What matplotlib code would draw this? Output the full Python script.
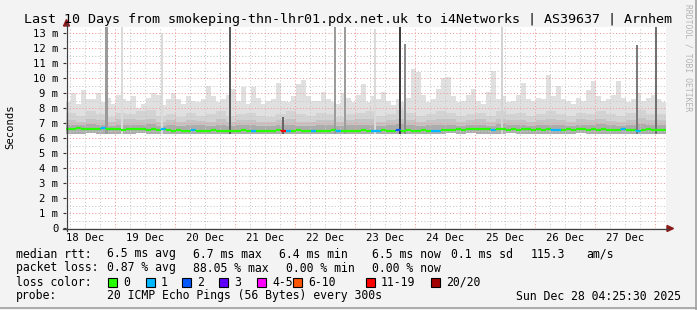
import numpy as np
import matplotlib
matplotlib.use("Agg")
import matplotlib.pyplot as plt
from matplotlib.patches import Rectangle, Polygon
from matplotlib.lines import Line2D

# --- data (hours since 18 Dec 00:00, values in ms) ---
t_start = 4.425          # 18 Dec 04:25:30
t_end = 244.425          # 28 Dec 04:25:30

# 2-hour samples: upper edge of the light smoke, median rtt, lost pings (of 20)
smoke_max = [8.4, 9.0, 8.3, 9.2, 8.6, 8.6, 9.0, 8.4, 8.7, 8.3,
             8.9, 8.6, 8.5, 8.8, 8.0, 8.3, 8.7, 9.0, 8.9, 8.2,
             8.6, 9.0, 8.6, 8.3, 8.8, 8.5, 8.4, 8.6, 9.5, 8.8,
             8.4, 8.6, 8.9, 9.3, 8.5, 9.4, 8.3, 9.4, 8.7, 8.3,
             8.5, 8.6, 9.7, 8.5, 8.4, 8.8, 9.6, 9.9, 8.8, 8.5,
             8.5, 9.1, 8.6, 8.4, 8.3, 9.0, 8.7, 8.4, 8.9, 9.6,
             8.4, 8.8, 8.6, 9.1, 8.5, 8.2, 8.6, 8.4, 8.7, 10.6,
             10.4, 8.9, 8.4, 8.6, 9.3, 10.0, 10.1, 8.8, 8.4, 8.5,
             8.9, 9.3, 8.5, 8.3, 9.1, 10.5, 8.6, 8.8, 8.4, 8.5,
             8.9, 9.7, 8.6, 8.5, 8.7, 8.6, 10.2, 8.8, 9.5, 8.6,
             8.5, 8.3, 8.7, 8.5, 9.2, 9.8, 8.8, 8.5, 8.6, 8.9,
             9.8, 8.7, 8.4, 8.6, 9.0, 8.5, 8.7, 8.9, 8.6, 8.4]

median_rtt = [6.62, 6.60, 6.65, 6.60, 6.58, 6.62, 6.60, 6.64, 6.60, 6.58,
              6.62, 6.56, 6.60, 6.62, 6.58, 6.60, 6.56, 6.60, 6.55, 6.58,
              6.52, 6.50, 6.54, 6.50, 6.48, 6.52, 6.50, 6.46, 6.50, 6.52,
              6.48, 6.50, 6.46, 6.50, 6.48, 6.52, 6.48, 6.50, 6.46, 6.50,
              6.48, 6.50, 6.52, 6.46, 6.50, 6.48, 6.52, 6.50, 6.48, 6.45,
              6.50, 6.46, 6.50, 6.52, 6.48, 6.50, 6.46, 6.50, 6.48, 6.52,
              6.50, 6.48, 6.46, 6.52, 6.50, 6.48, 6.55, 6.50, 6.52, 6.48,
              6.50, 6.54, 6.50, 6.48, 6.50, 6.52, 6.56, 6.54, 6.58, 6.56,
              6.60, 6.58, 6.62, 6.58, 6.60, 6.56, 6.60, 6.58, 6.55, 6.58,
              6.56, 6.60, 6.58, 6.55, 6.58, 6.56, 6.60, 6.55, 6.52, 6.56,
              6.58, 6.55, 6.58, 6.60, 6.56, 6.58, 6.55, 6.60, 6.56, 6.52,
              6.56, 6.58, 6.55, 6.52, 6.50, 6.55, 6.58, 6.56, 6.55, 6.56]

lost_pings = [0, 0, 0, 0, 0, 0, 0, 1, 0, 0,
              0, 0, 0, 0, 0, 0, 0, 0, 0, 1,
              0, 0, 0, 0, 0, 1, 0, 0, 0, 0,
              0, 0, 0, 0, 0, 0, 0, 1, 0, 0,
              0, 0, 0, 15, 1, 0, 0, 0, 0, 1,
              0, 0, 0, 0, 1, 0, 0, 0, 0, 0,
              0, 1, 1, 0, 0, 0, 2, 0, 0, 0,
              0, 0, 0, 1, 1, 0, 0, 0, 0, 0,
              0, 0, 0, 0, 0, 1, 0, 0, 0, 0,
              0, 0, 0, 0, 0, 0, 0, 1, 1, 0,
              0, 0, 0, 0, 0, 0, 0, 0, 0, 0,
              0, 1, 0, 0, 1, 0, 0, 0, 0, 0]

# 4-hour samples: inner smoke bands
smoke_low = [6.30, 6.28, 6.32, 6.30, 6.28, 6.30, 6.30, 6.32, 6.30, 6.28,
             6.26, 6.25, 6.28, 6.26, 6.25, 6.28, 6.26, 6.25, 6.28, 6.26,
             6.25, 6.26, 6.28, 6.25, 6.26, 6.25, 6.28, 6.26, 6.25, 6.26,
             6.26, 6.28, 6.25, 6.26, 6.28, 6.26, 6.25, 6.30, 6.32, 6.30,
             6.32, 6.30, 6.28, 6.30, 6.32, 6.30, 6.28, 6.30, 6.30, 6.28,
             6.30, 6.32, 6.30, 6.28, 6.30, 6.28, 6.30, 6.28, 6.30, 6.30]
smoke_band2 = [7.7, 7.5, 7.8, 7.6, 7.4, 7.7, 7.6, 7.8, 7.9, 7.5,
               7.6, 7.4, 7.7, 7.5, 7.6, 7.8, 7.5, 7.6, 7.7, 7.5,
               7.4, 7.6, 7.8, 7.6, 7.5, 7.7, 7.6, 7.4, 7.6, 7.7,
               7.8, 7.5, 7.6, 7.9, 7.7, 7.5, 7.6, 7.8, 7.7, 7.5,
               7.6, 7.7, 7.5, 7.8, 7.6, 7.7, 7.5, 7.6, 7.8, 7.6,
               7.5, 7.7, 7.6, 7.8, 7.6, 7.5, 7.7, 7.9, 7.6, 7.6]
smoke_band3 = [7.2, 7.1, 7.3, 7.2, 7.1, 7.25, 7.3, 7.2, 7.3, 7.1,
               7.2, 7.1, 7.2, 7.15, 7.1, 7.3, 7.1, 7.2, 7.2, 7.1,
               7.05, 7.2, 7.3, 7.1, 7.1, 7.2, 7.2, 7.05, 7.2, 7.25,
               7.3, 7.1, 7.2, 7.3, 7.2, 7.1, 7.2, 7.3, 7.25, 7.1,
               7.2, 7.25, 7.1, 7.3, 7.2, 7.2, 7.1, 7.2, 7.3, 7.2,
               7.1, 7.25, 7.2, 7.3, 7.15, 7.1, 7.2, 7.35, 7.2, 7.2]
smoke_band4 = [6.9, 6.85, 6.95, 6.9, 6.8, 6.9, 6.9, 6.85, 6.95, 6.8,
               6.85, 6.8, 6.9, 6.85, 6.8, 6.9, 6.8, 6.85, 6.9, 6.8,
               6.8, 6.85, 6.9, 6.8, 6.8, 6.85, 6.9, 6.8, 6.85, 6.9,
               6.9, 6.8, 6.85, 6.95, 6.85, 6.8, 6.85, 6.9, 6.9, 6.8,
               6.85, 6.9, 6.8, 6.95, 6.85, 6.85, 6.8, 6.85, 6.9, 6.85,
               6.8, 6.9, 6.85, 6.95, 6.85, 6.8, 6.85, 6.95, 6.85, 6.85]

# single high samples (time in hours, top in ms, grey shade)
spike_time = [20.6, 26.8, 42.8, 70.0, 91.2, 112.0, 116.0, 128.0, 138.0, 140.0, 178.8, 232.8, 240.4]
spike_top = [14.0, 14.0, 13.0, 14.0, 7.4, 14.0, 14.0, 13.3, 14.0, 12.3, 14.0, 12.2, 14.0]
spike_shade = ["#9a9a9a", "#dadada", "#dadada", "#5a5a5a", "#666666", "#9c9c9c", "#9c9c9c",
               "#dadada", "#3c3c3c", "#8a8a8a", "#d2d2d2", "#7a7a7a", "#707070"]

day_labels = ["18 Dec", "19 Dec", "20 Dec", "21 Dec", "22 Dec",
              "23 Dec", "24 Dec", "25 Dec", "26 Dec", "27 Dec"]
loss_labels = ["0", "1", "2", "3", "4-5", "6-10", "11-19", "20/20"]
loss_colors = ["#26ff00", "#00b8ff", "#0059ff", "#5e00ff", "#ff00ff", "#ff5500", "#ff0000", "#a10000"]
loss_limits = [0, 1, 2, 3, 5, 10, 19, 20]

W, H = 697, 310
MONO = "DejaVu Sans Mono"
plt.rcParams["lines.scale_dashes"] = False


def fx(px):
    return px / W


def fy(py):
    return 1 - py / H


fig = plt.figure(figsize=(W / 100, H / 100), dpi=100, facecolor="#f3f3f3")
ax = fig.add_axes([fx(66), fy(228), 600 / W, 201 / H])
ax.set_facecolor("white")
ax.set_xlim(t_start, t_end)
ax.set_ylim(0, 13.4)
for s in ax.spines.values():
    s.set_visible(False)

# smoke
t2 = t_start + 2 * np.arange(len(smoke_max))
t4 = t_start + 4 * np.arange(len(smoke_low))
t2e = np.append(t2, t2[-1] + 2)
t4e = np.append(t4, t4[-1] + 4)
low2 = np.repeat(smoke_low, 2)
ax.fill_between(t2e, np.append(low2, low2[-1]), np.append(smoke_max, smoke_max[-1]),
                step="post", color="#e0e0e0", lw=0, zorder=1)
for band, col in [(smoke_band2, "#d3d3d3"), (smoke_band3, "#c4c4c4"), (smoke_band4, "#acacac")]:
    ax.fill_between(t4e, np.append(smoke_low, smoke_low[-1]), np.append(band, band[-1]),
                    step="post", color=col, lw=0, zorder=1.5)
ax.bar(spike_time, np.array(spike_top) - 6.3, bottom=6.3, width=1.0,
       color=spike_shade, lw=0, zorder=3.5)

# grid
minor_y = np.arange(0.5, 13.4, 1.0)
major_y = np.arange(1, 14)
minor_x = [h for h in range(6, 245, 6) if h % 24]
major_x = list(range(24, 245, 24))
kw = dict(lw=0.7, linestyles=[(0, (0.8, 1.5))], zorder=3)
ax.hlines(minor_y, t_start, t_end, colors="#c8c8c8", **kw)
ax.vlines(minor_x, 0, 13.4, colors="#c8c8c8", **kw)
ax.hlines(major_y, t_start, t_end, colors="#f29a9a", **kw)
ax.vlines(major_x, 0, 13.4, colors="#f29a9a", **kw)

# median line coloured by loss
idx = np.searchsorted(loss_limits, lost_pings)
seg_cols = [loss_colors[i] for i in idx]
ax.hlines(median_rtt, t2, t2 + 2, colors=seg_cols, lw=1.6, zorder=4)
ax.vlines(t2[1:], median_rtt[:-1], median_rtt[1:], colors=seg_cols[1:], lw=1.3, zorder=4)

# ticks
ax.set_yticks(range(0, 14))
ax.set_yticklabels(["0"] + [f"{v} m" for v in range(1, 14)], fontfamily=MONO, fontsize=7.6)
ax.set_xticks(np.arange(12, 240, 24))
ax.set_xticklabels(day_labels, fontfamily=MONO, fontsize=7.6)
ax.tick_params(axis="y", length=2.5, width=0.8, color="#333333", pad=3)
ax.tick_params(axis="x", length=0, pad=3.5)

# axes with arrows
fig.add_artist(Line2D([fx(66.5), fx(66.5)], [fy(231), fy(24)], color="#404040", lw=0.9))
fig.add_artist(Line2D([fx(63), fx(668)], [fy(228.5), fy(228.5)], color="#404040", lw=0.9))
fig.add_artist(Polygon([[fx(63.5), fy(26)], [fx(69.5), fy(26)], [fx(66.5), fy(19.5)]],
                       closed=True, color="#8b1a1a", transform=fig.transFigure))
fig.add_artist(Polygon([[fx(667), fy(225.5)], [fx(667), fy(231.5)], [fx(673.5), fy(228.5)]],
                       closed=True, color="#8b1a1a", transform=fig.transFigure))

# frame
fig.add_artist(Line2D([fx(695.5), fx(695.5)], [0, 1], color="#a0a0a0", lw=1.2))
fig.add_artist(Line2D([0, 1], [fy(307.5), fy(307.5)], color="#a0a0a0", lw=1.2))

# texts
fig.text(fx(24), fy(19), "Last 10 Days from smokeping-thn-lhr01.pdx.net.uk to i4Networks | AS39637 | Arnhem",
         fontfamily=MONO, fontsize=9.6, va="center", ha="left")
fig.text(fx(10), fy(127), "Seconds", rotation=90, fontfamily=MONO, fontsize=7.6, va="center", ha="center")
fig.text(fx(688), fy(4), "RRDTOOL / TOBI OETIKER", rotation=270, fontfamily=MONO, fontsize=5.8,
         color="#b4b4b4", va="top", ha="center")

lk = dict(fontfamily=MONO, fontsize=8.3, va="center", ha="left")
rows = [
    (254, [(16, "median rtt:"), (107, "6.5 ms avg"), (193, "6.7 ms max"), (279, "6.4 ms min"),
           (372, "6.5 ms now"), (451, "0.1 ms sd"), (531, "115.3"), (586, "am/s")]),
    (268, [(16, "packet loss:"), (107, "0.87 % avg"), (193, "88.05 % max"), (286, "0.00 % min"),
           (372, "0.00 % now")]),
    (282, [(16, "loss color:")]),
    (296, [(16, "probe:"), (107, "20 ICMP Echo Pings (56 Bytes) every 300s")]),
]
for y, items in rows:
    for x, s in items:
        fig.text(fx(x), fy(y), s, **lk)
fig.text(fx(681), fy(296), "Sun Dec 28 04:25:30 2025", fontfamily=MONO, fontsize=8.3, va="center", ha="right")

box_x = [108, 146, 182, 219, 257, 293, 366, 431]
for bx, col, lab in zip(box_x, loss_colors, loss_labels):
    fig.add_artist(Rectangle((fx(bx), fy(286.5)), 9 / W, 9 / H, transform=fig.transFigure,
                             facecolor=col, edgecolor="black", lw=0.8))
    fig.text(fx(bx + 15), fy(282), lab, **lk)

fig.savefig("out.png", dpi=100, facecolor=fig.get_facecolor())
